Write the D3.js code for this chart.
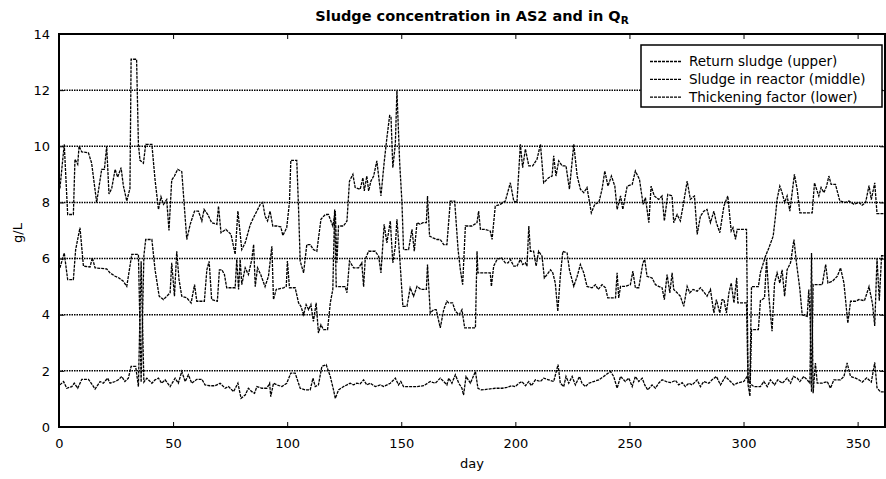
<!DOCTYPE html>
<html>
<head>
<meta charset="utf-8">
<script src="https://cdn.jsdelivr.net/npm/d3@7"></script>
<style>
  html, body { margin: 0; padding: 0; background: #fff; }
  svg { display: block; }
  text { font-family: "DejaVu Sans", Verdana, sans-serif; fill: #000; }
</style>
</head>
<body>
<svg id="chart" width="886" height="479"></svg>
<script>
// Return sludge concentration (g/L), [day, value]
const returnSludge = [
  [0.4,8.5],[2.3,10.07],[3.8,7.57],[6.3,7.57],[7,9.54],[8.2,9.36],[8.8,10],[10,9.8],[12.9,9.77],[14.3,9.4],
  [16.5,8],[18.7,9.18],[19.9,9.18],[20.9,10],[21.9,8.3],[23.1,8.5],[24.6,9.18],[25.7,8.9],[27.2,9.24],[28.2,8.6],
  [29.7,8.05],[31.1,8.5],[31.6,13.1],[34,13.1],[34.8,10.07],[35.5,9.5],[37,9.4],[38,10.07],[40.7,10.07],[42.1,8.8],
  [43.6,7.75],[44.7,8.2],[45.8,7.93],[47.2,8.1],[48.2,7],[49.4,8.8],[50.6,8.94],[52,9.18],[53.8,9.1],[56,6.68],
  [57.5,7.22],[59.4,7.69],[61.1,7.69],[62.6,7.34],[63.6,7.75],[65.2,7.57],[66.9,7.28],[69.2,7.22],[69.9,7.87],[71,6.92],
  [73.1,7.04],[75.4,6.86],[77.2,6.15],[78.4,7.69],[80.1,6.32],[81.6,6.56],[83.8,7.2],[85.2,7.45],[86.7,7.69],[88.2,7.93],
  [89.3,8.0],[90.3,7.51],[91.4,7.34],[92.5,7.69],[93.7,7.16],[95.5,7.16],[97.2,7.13],[98.1,6.82],[99.8,7.1],[101,8.0],
  [101.6,9.5],[104.2,9.5],[105,7.75],[105.7,5.91],[107.2,5.49],[108.6,6.5],[110.1,6.5],[111.5,6.32],[113,6.26],[114.8,7.4],
  [116.7,7.57],[118.1,7.57],[120,7.16],[121.1,7.69],[121.8,5.85],[122.5,7.16],[124.7,7.16],[126.2,7.34],[127.3,8.76],[128.8,9.0],
  [129.8,8.53],[132,8.47],[133.2,8.88],[133.8,8.41],[134.9,8.94],[135.7,8.41],[136.7,8.76],[137.9,8.94],[139.3,9.48],[141.1,8.23],
  [142.5,9.42],[143.7,10.3],[144.9,11.09],[145.5,11.06],[146.3,9.24],[147.4,10.07],[148.1,11.98],[149.3,9.42],[150.3,8.0],[151,6.32],
  [153.2,6.32],[154.7,7.04],[155.7,6.26],[156.9,7.28],[158.3,7.22],[159.5,7.28],[161,7.28],[161.5,8.23],[162.4,6.8],[163.9,6.74],
  [165.6,6.68],[167.1,6.68],[168.6,6.5],[170,6.5],[171.5,8.05],[173.4,8.05],[174.9,6.32],[175.9,5.6],[176.9,5.07],[178.1,7.16],
  [181,7.16],[183.2,7.28],[183.9,7.69],[184.7,7.04],[186.8,7.04],[189,6.98],[189.8,6.68],[191.2,7.87],[193.4,7.93],[195.6,8.05],
  [197.8,8.7],[199.3,8.05],[200.7,8.0],[202.2,10.07],[203.2,9.24],[204.4,9.9],[205.9,9.3],[207.6,9.3],[209.5,9.54],[211,10.07],
  [212.4,8.7],[214.6,8.88],[216.1,8.94],[216.8,9.66],[217.8,8.94],[219,9.48],[220.5,9.3],[222.2,9.3],[223.7,8.47],[225.6,10.07],
  [227.1,8.94],[228.5,8.47],[230,8.35],[231.4,8.53],[233.3,7.63],[234.8,7.93],[236.6,8.0],[238,8.47],[239.2,9.12],[240.6,8.58],
  [242.1,8.94],[243.6,8.58],[244.6,7.75],[246.1,8.23],[247.1,7.75],[249,8.58],[251.2,8.64],[252.6,9.12],[254.4,8.82],[256,7.93],
  [257,8.17],[258.5,7.28],[259.5,8.58],[260.9,8.23],[262.8,8.11],[264.3,8.23],[265.3,7.34],[266.8,8.29],[268.7,8.23],[269.4,7.28],
  [270.9,7.57],[272.3,7.34],[273.5,7.87],[275.3,8.76],[276.7,8.11],[278.5,8.23],[279.7,6.86],[281.1,7.51],[282.6,7.69],[284,7.75],
  [285.5,7.28],[287,7.69],[288.1,7.28],[289.6,6.92],[291.4,7.87],[293.1,8.23],[294.6,6.98],[295.4,7.1],[296.5,6.68],[297.2,7.04],
  [301.3,7.04],[302,1.6],[302.8,1.6],[303.5,5.0],[306.5,5.0],[307.4,5.5],[309.6,6.08],[311.1,6.38],[313,6.8],[314,7.51],
  [314.7,8.11],[315.9,8.58],[316.9,8.35],[318,8.0],[319.1,8.23],[320.3,7.69],[322.3,9.0],[323.5,8.47],[324.7,7.63],[330.1,7.63],
  [331.1,8.7],[332,8.47],[333,8.23],[334,8.53],[335.2,8.35],[336.4,8.58],[337.4,8.94],[338.4,8.64],[340.3,8.64],[342.2,8.05],
  [344.7,8.0],[346.2,8.05],[348.4,7.93],[350.6,8.0],[352,7.9],[353.5,8.0],[355,8.6],[356,8.1],[357.5,8.7],[358.5,7.6],[362,7.6]
];

// Sludge concentration in the reactor (g/L), [day, value]
const reactorSludge = [
  [0.4,5.67],[2.3,6.2],[3.8,5.25],[6.3,5.25],[7.3,6.32],[9.2,7.1],[10.7,5.73],[13.6,5.7],[14.6,6.03],[15.8,5.67],
  [20.9,5.63],[22.4,5.49],[24.6,5.37],[26.3,5.31],[28.2,5.19],[29.7,5.01],[30.4,5.37],[31.9,6.15],[34.8,6.15],[36,1.6],
  [37.2,6.1],[38,6.68],[40.7,6.68],[42.1,5.6],[43.9,4.66],[45.8,4.54],[48.7,4.78],[49.4,5.85],[50.6,4.66],[51.6,6.26],
  [52.6,5.25],[53.8,4.66],[56,4.6],[57.9,4.42],[59.4,5.07],[60.4,4.48],[63.7,4.48],[64.8,5.6],[65.8,5.9],[66.9,4.54],
  [69.4,4.48],[70.3,5.6],[71.4,5.6],[72.5,5.43],[73.5,4.96],[77.2,4.96],[77.9,5.97],[78.7,4.9],[79.4,5.97],[80.1,5.07],
  [81.6,5.67],[83,5.43],[84.5,5.97],[85.3,6.5],[86,5.0],[87,5.67],[88.4,5.43],[90.3,5.0],[91.8,5.37],[93.3,6.44],
  [94,4.54],[95.2,4.9],[98.4,4.96],[99.6,5.01],[100.1,5.91],[101,4.96],[103.5,4.96],[105,4.42],[106,4.3],[107.2,4.0],
  [108.3,4.36],[109.4,4.18],[110.4,4.36],[111.5,3.76],[112.7,4.42],[113.7,3.35],[114.8,3.64],[115.9,3.47],[117.7,3.47],[118.9,4.42],
  [120,4.9],[120.8,7.75],[121.5,5.0],[125.4,5.0],[126.2,4.78],[127.3,5.91],[129.1,5.67],[131.3,5.67],[132.7,5.85],[133.5,5.0],
  [134.2,5.97],[135.7,6.26],[138.6,6.26],[140.1,6.08],[141.1,5.49],[142.5,7.22],[143.7,6.56],[145.2,7.34],[146.3,5.85],[147.4,6.44],
  [148.1,7.4],[149.3,6.08],[150.7,4.3],[152.5,4.3],[153.9,4.96],[155.4,4.66],[156.9,5.01],[158.6,4.9],[161,4.9],[161.5,5.79],
  [162.7,4.06],[164.2,4.18],[165.3,4.18],[167.1,3.53],[168.6,4.18],[170,4.48],[170.8,4.42],[172.5,4.42],[173.7,4.12],[175.4,4.0],
  [176.6,4.18],[177.8,3.53],[182.5,3.53],[183.2,6.26],[183.6,5.49],[189,5.49],[189.5,5.01],[190.5,5.73],[192,5.97],[193.9,6.03],
  [195.6,5.85],[196.8,5.85],[197.8,5.97],[199.3,5.73],[200.7,5.73],[202.2,5.97],[203.2,5.79],[204.4,5.85],[205.1,5.73],[205.9,7.16],
  [206.6,6.26],[208,6.26],[209.1,5.73],[210.2,6.26],[211.7,6.08],[212.7,5.31],[213.9,5.43],[215.4,5.6],[216.4,5.49],[217.5,5.13],
  [218.6,4.12],[219.7,5.37],[220.8,6.26],[222.7,6.2],[223.7,5.6],[225.6,5.01],[227.1,5.37],[228.5,5.79],[230,5.49],[231.4,5.01],
  [233.6,4.96],[235.1,5.07],[236.3,4.9],[238,5.07],[239.5,4.96],[240.5,4.6],[243.9,4.6],[244.6,5.49],[245.3,4.6],[246.1,5.01],
  [248.2,5.01],[250.4,5.07],[251.5,5.55],[252.6,4.96],[254.1,4.96],[255.9,5.85],[256.7,5.97],[257.7,5.37],[259.9,5.31],[261.4,5.07],
  [262.8,5.01],[264.3,4.96],[265.3,4.54],[266.5,5.43],[267.7,4.78],[268.7,5.49],[269.4,4.9],[270.9,4.78],[272.3,4.66],[273.8,4.3],
  [275.3,5.01],[276.4,4.78],[277.9,4.9],[279.7,4.84],[281.1,4.96],[282.9,4.78],[284,4.66],[285.5,4.9],[287,4.06],[288.1,4.54],
  [289.6,4.06],[290.6,4.54],[291.4,4.54],[292.5,4.06],[293.6,4.78],[294.6,5.13],[295.8,4.42],[297,5.31],[297.5,4.42],[301.3,4.42],
  [302,1.5],[302.8,1.1],[303.5,3.47],[306.5,3.47],[307.4,4.5],[309.2,4.6],[310.1,5.97],[311.1,4.66],[312.5,3.41],[313.6,5.13],
  [314.7,5.49],[315.9,5.13],[316.9,5.6],[318,4.66],[319.1,5.6],[320.6,5.85],[322.1,6.68],[323.2,5.85],[324.7,4.9],[325.7,4.0],
  [327.9,3.94],[328.6,4.9],[329.2,3.94],[329.8,1.25],[330.5,5.07],[334.5,5.07],[336,5.79],[337,5.13],[338.9,5.19],[341.1,5.37],
  [342.5,5.67],[344,5.13],[345.7,3.7],[346.9,4.48],[349.1,4.48],[350.6,4.54],[353,4.5],[355,5.0],[356.5,4.4],[357.5,3.6],
  [358.5,6.0],[359.5,4.5],[360.5,6.1],[362,6.1]
];

// Thickening factor (return / reactor), [day, value]
const thickeningFactor = [
  [0.4,1.5],[2,1.62],[3.4,1.38],[5.6,1.44],[6.7,1.56],[8.2,1.38],[10,1.7],[12.9,1.7],[14.3,1.54],[15.8,1.35],
  [18,1.62],[19.4,1.56],[21.3,1.74],[22.4,1.56],[24.6,1.62],[26,1.68],[27.5,1.8],[28.9,1.62],[30.4,1.74],[31.6,2.16],
  [33.6,2.16],[34.8,1.44],[36,5.9],[37.2,1.6],[38.5,1.74],[40.7,1.56],[42.1,1.68],[43.6,1.74],[45,1.56],[46.5,1.68],
  [48.7,1.44],[50.9,1.74],[52.3,1.56],[53.8,1.98],[55.3,1.62],[56.7,1.86],[58.2,1.56],[60.4,1.7],[62.6,1.7],[64,1.5],
  [66.2,1.47],[68.4,1.47],[70.6,1.56],[72.8,1.38],[74.3,1.44],[76.5,1.26],[78.4,1.56],[79.8,1.02],[81.6,1.14],[83,1.38],
  [84.5,1.26],[85.7,1.2],[86.7,1.44],[88.9,1.38],[91.1,1.38],[92.3,1.56],[92.8,1.08],[94,1.56],[95.5,1.5],[97.7,1.44],
  [99.8,1.56],[101.6,1.92],[103.5,1.92],[105.7,1.38],[107.9,1.32],[110.1,1.32],[111.3,1.74],[112.3,1.44],[113.7,1.5],[115.2,2.16],
  [117.1,2.22],[118.9,1.8],[120.3,1.32],[121.1,1.02],[122.5,1.32],[124.7,1.44],[126.2,1.5],[127.6,1.56],[129.1,1.5],[130.5,1.56],
  [132,1.54],[133.5,1.68],[134.9,1.5],[136.4,1.56],[138.6,1.44],[140.8,1.5],[142.3,1.44],[145.2,1.56],[147.4,1.74],[148.8,1.5],
  [149.8,1.62],[151,1.44],[156.9,1.44],[159.8,1.47],[162.7,1.62],[164.9,1.56],[167.1,1.74],[168.6,1.62],[170,1.5],[170.8,1.74],
  [172.2,1.56],[173.7,1.86],[175.2,1.56],[176.6,1.38],[177.3,1.14],[178.4,1.8],[180.3,1.56],[182.5,1.98],[183.6,1.38],[185.1,1.32],
  [188.3,1.35],[191.2,1.38],[194.2,1.38],[196.3,1.41],[198.5,1.47],[200,1.44],[201.5,1.56],[202.9,1.62],[204.4,1.47],[205.9,1.62],
  [207,1.47],[208.8,1.68],[211,1.62],[212.4,1.74],[214.6,1.68],[216.8,1.62],[218.7,2.22],[219.7,1.56],[221.2,1.44],[222.2,1.8],
  [223.4,1.56],[224.9,1.8],[226.3,1.5],[228.1,1.8],[229.2,1.56],[230.7,1.44],[232.2,1.56],[234.3,1.62],[236.6,1.68],[238.7,1.8],
  [241.7,1.98],[243.1,1.8],[244.6,1.38],[246.1,1.8],[248.2,1.62],[249.7,1.74],[251.2,1.44],[252.6,1.8],[254.1,1.62],[255.6,1.74],
  [256.7,1.5],[258,1.32],[259.9,1.5],[261.4,1.38],[262.8,1.56],[264.3,1.68],[266.2,1.62],[268,1.58],[270.2,1.66],[271.6,1.5],
  [273.1,1.58],[274.5,1.44],[276,1.56],[277.5,1.5],[279.7,1.68],[281.1,1.44],[282.6,1.62],[284.8,1.56],[286.2,1.68],[288.1,1.8],
  [289.9,1.5],[292.1,1.8],[293.5,1.68],[295.8,1.5],[297.2,1.56],[300.1,1.62],[301.6,1.8],[302.8,1.56],[304.5,1.44],[307.4,1.44],
  [308.9,1.62],[310.4,1.44],[311.8,1.68],[313.6,1.5],[315,1.68],[317,1.56],[319.1,1.74],[320.6,1.56],[321.8,1.8],[323.5,1.74],
  [324.7,1.62],[326.4,1.8],[327.9,1.68],[329.1,1.56],[329.8,6.2],[330.5,1.2],[331.5,2.28],[332.3,1.56],[334.5,1.56],[336.7,1.62],
  [338.1,1.38],[339.6,1.68],[341.1,1.68],[342.5,1.68],[344,1.8],[345.4,2.28],[346.9,1.8],[349.1,1.74],[350.6,1.68],[352,1.6],
  [354,1.75],[356,1.6],[357.5,2.3],[358.5,1.4],[360,1.25],[362,1.25]
];

const seriesNames = ["Return sludge (upper)", "Sludge in reactor (middle)", "Thickening factor (lower)"];
const xTicks = [0, 50, 100, 150, 200, 250, 300, 350];
const yTicks = [0, 2, 4, 6, 8, 10, 12, 14];
const gridValues = [2, 4, 6, 8, 10, 12];

const svg = d3.select("#chart");
const margin = { left: 59, top: 34, right: 885, bottom: 427 };

const x = d3.scaleLinear().domain([0, 362]).range([margin.left, margin.right]);
const y = d3.scaleLinear().domain([0, 14]).range([margin.bottom, margin.top]);

// horizontal dotted grid
svg.append("g").selectAll("line").data(gridValues).join("line")
  .attr("x1", margin.left).attr("x2", margin.right)
  .attr("y1", d => y(d)).attr("y2", d => y(d))
  .attr("stroke", "#000").attr("stroke-width", 1.5)
  .attr("stroke-dasharray", "1.5,1");

// data lines
const line = d3.line().x(d => x(d[0])).y(d => y(d[1]));
const allSeries = [returnSludge, reactorSludge, thickeningFactor];
svg.append("g").selectAll("path").data(allSeries).join("path")
  .attr("d", line)
  .attr("fill", "none").attr("stroke", "#000").attr("stroke-width", 1.3)
  .attr("stroke-dasharray", "3,1");

// axes with inward ticks
const axisFont = g => g.selectAll("text").attr("font-family", "DejaVu Sans, sans-serif").attr("font-size", 13);
svg.append("g").attr("transform", `translate(0,${margin.bottom})`)
  .call(d3.axisBottom(x).tickValues(xTicks).tickSize(-5).tickPadding(12).tickFormat(d3.format("d")))
  .call(g => g.select(".domain").remove()).call(axisFont);
svg.append("g").attr("transform", `translate(0,${margin.top})`)
  .call(d3.axisTop(x).tickValues(xTicks).tickSize(-5).tickFormat(""))
  .call(g => g.select(".domain").remove());
svg.append("g").attr("transform", `translate(${margin.left},0)`)
  .call(d3.axisLeft(y).tickValues(yTicks).tickSize(-5).tickPadding(9).tickFormat(d3.format("d")))
  .call(g => g.select(".domain").remove()).call(axisFont);
svg.append("g").attr("transform", `translate(${margin.right},0)`)
  .call(d3.axisRight(y).tickValues(yTicks).tickSize(-5).tickFormat(""))
  .call(g => g.select(".domain").remove());

// frame
svg.append("rect")
  .attr("x", margin.left).attr("y", margin.top)
  .attr("width", margin.right - margin.left).attr("height", margin.bottom - margin.top)
  .attr("fill", "none").attr("stroke", "#000").attr("stroke-width", 2);

// title
const title = svg.append("text")
  .attr("x", (margin.left + margin.right) / 2).attr("y", 21)
  .attr("text-anchor", "middle").attr("font-size", 14.5).attr("font-weight", "bold");
title.append("tspan").text("Sludge concentration in AS2 and in Q");
title.append("tspan").attr("font-size", 10.5).attr("dy", 3).text("R");

// axis titles
svg.append("text").attr("x", (margin.left + margin.right) / 2).attr("y", 468)
  .attr("text-anchor", "middle").attr("font-size", 13).text("day");
svg.append("text").attr("transform", "translate(22,233) rotate(-90)")
  .attr("text-anchor", "middle").attr("font-size", 13).text("g/L");

// legend
const legend = svg.append("g");
legend.append("rect").attr("x", 641).attr("y", 45).attr("width", 241).attr("height", 62)
  .attr("fill", "#fff").attr("stroke", "#000").attr("stroke-width", 1.5);
const rows = legend.selectAll("g.row").data(seriesNames).join("g").attr("class", "row")
  .attr("transform", (d, i) => `translate(0,${61.5 + i * 17.8})`);
rows.append("line").attr("x1", 650).attr("x2", 682).attr("y1", 0).attr("y2", 0)
  .attr("stroke", "#000").attr("stroke-width", 1.3).attr("stroke-dasharray", "3,1");
rows.append("text").attr("x", 689).attr("y", 0).attr("dy", "0.35em")
  .attr("font-size", 13.5).text(d => d);
</script>
</body>
</html>
